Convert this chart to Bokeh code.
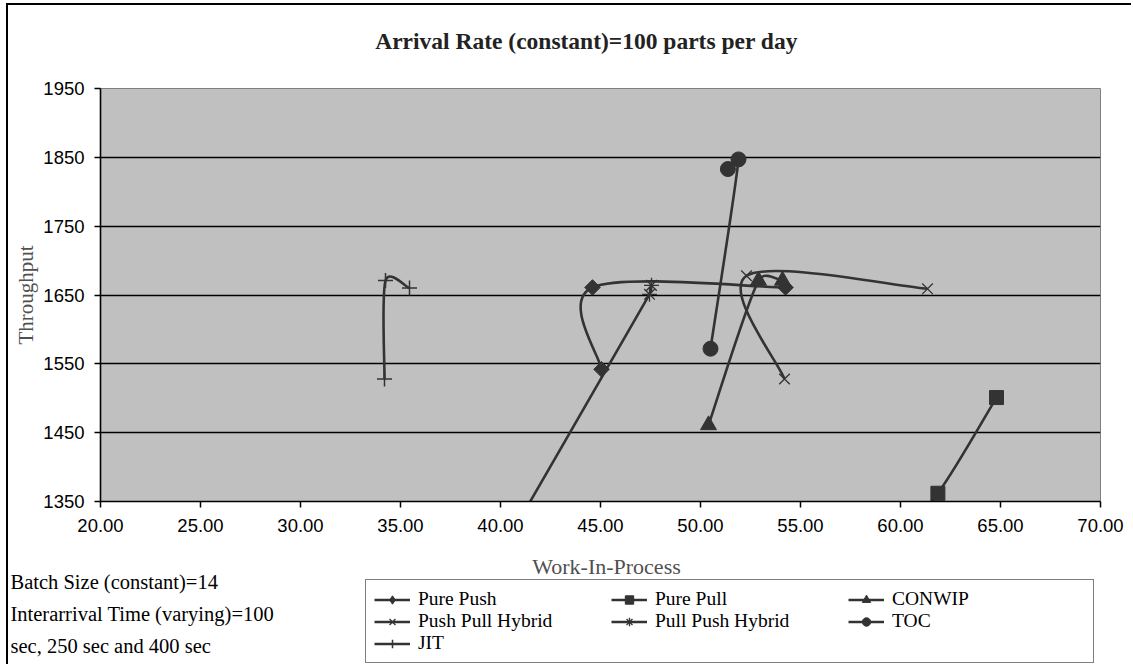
import numpy as np
from bokeh.plotting import figure
from bokeh.layouts import column
from bokeh.models import (Range1d, FixedTicker, NumeralTickFormatter, Label,
                          Legend, LegendItem)
from bokeh.embed import file_html
from bokeh.resources import INLINE

# ---------------- data ----------------
title_text = "Arrival Rate (constant)=100 parts per day"
x_title = "Work-In-Process"
y_title = "Throughput"
notes = ["Batch Size (constant)=14",
         "Interarrival Time (varying)=100",
         "sec, 250 sec and 400 sec"]

x_ticks = [20, 25, 30, 35, 40, 45, 50, 55, 60, 65, 70]
y_ticks = [1350, 1450, 1550, 1650, 1750, 1850, 1950]

series_names = ["Pure Push", "Pure Pull", "CONWIP",
                "Push Pull Hybrid", "Pull Push Hybrid", "TOC", "JIT"]

pure_push_wip = [45.05, 44.60, 54.25]
pure_push_thr = [1542, 1661, 1661]

pure_pull_wip = [59.50, 61.87, 64.80]
pure_pull_thr = [1290, 1362, 1501]

conwip_wip = [50.40, 52.90, 54.10]
conwip_thr = [1461, 1671, 1671]

push_pull_wip = [61.35, 52.30, 54.20]
push_pull_thr = [1659, 1678, 1528]

pull_push_wip = [39.00, 47.45, 47.55]
pull_push_thr = [1225, 1651, 1664]

toc_wip = [50.50, 51.90, 51.37]
toc_thr = [1572, 1847, 1833]

jit_wip = [34.20, 34.25, 35.45]
jit_thr = [1528, 1671, 1660]

# ---------------- layout / styling ----------------
DARK = "#333333"
SERIF = "Liberation Serif"
SANS = "Liberation Sans"

OFF_X, OFF_Y = 8, 5            # page offset of the chart (outer border sits left/above it)
PAGE_W, PAGE_H = 1133, 666
TOP_SPLIT = 78                 # page y where the plot figure starts (title strip above)
SPLIT = 545                    # page y where the lower (notes + legend) strip starts
FRAME_W, FRAME_H = 1000, 413
FL, FT = 100, 88               # frame left/top on the page
XMIN, XMAX, YMIN, YMAX = 20, 70, 1350, 1950
W = PAGE_W - OFF_X


def strip(y0, y1):
    """A figure whose frame is the whole strip, with page-pixel coordinates."""
    f = figure(width=W, height=y1 - y0, output_backend="svg", toolbar_location=None,
               x_range=Range1d(OFF_X, PAGE_W), y_range=Range1d(y1, y0),
               min_border=0, x_axis_location=None, y_axis_location=None)
    f.frame_align = False
    f.grid.visible = False
    f.outline_line_color = None
    f.background_fill_color = "white"
    f.border_fill_color = "white"
    f.title.visible = False
    return f


# ---------------- title strip ----------------
t = strip(OFF_Y, TOP_SPLIT)
t.add_layout(Label(x=586, y=40, text=title_text, text_font=SERIF,
                   text_font_size="23.5px", text_font_style="bold",
                   text_color="#222222", text_align="center", text_baseline="middle"))

# ---------------- main plot ----------------
main_h = SPLIT - TOP_SPLIT
p = figure(width=W, height=main_h, output_backend="svg", toolbar_location=None,
           x_range=Range1d(XMIN, XMAX), y_range=Range1d(YMIN, YMAX),
           min_border_left=FL - OFF_X, min_border_right=W - (FL - OFF_X) - FRAME_W,
           min_border_top=FT - TOP_SPLIT,
           min_border_bottom=main_h - (FT - TOP_SPLIT) - FRAME_H)
p.frame_align = False
p.title.visible = False
p.background_fill_color = "#C0C0C0"
p.border_fill_color = "white"
p.outline_line_color = "#808080"
p.outline_line_width = 1

p.xgrid.visible = False
p.ygrid.grid_line_color = "black"
p.ygrid.grid_line_width = 1.6
p.ygrid.ticker = FixedTicker(ticks=y_ticks)

p.xaxis.ticker = FixedTicker(ticks=x_ticks)
p.xaxis.formatter = NumeralTickFormatter(format="0.00")
p.yaxis.ticker = FixedTicker(ticks=y_ticks)
for ax in (p.xaxis[0], p.yaxis[0]):
    ax.axis_line_color = "black"
    ax.axis_line_width = 1.6
    ax.major_tick_line_color = "black"
    ax.major_tick_line_width = 1.5
    ax.major_tick_in = 0
    ax.minor_tick_line_color = None
    ax.major_label_text_font = SANS
    ax.major_label_text_font_size = "18.5px"
    ax.major_label_text_color = "black"
p.xaxis.major_tick_out = 6
p.xaxis.major_label_standoff = 11
p.yaxis.major_tick_out = 6
p.yaxis.major_label_standoff = 10
p.yaxis.axis_label = y_title
p.yaxis.axis_label_text_font = SERIF
p.yaxis.axis_label_text_font_size = "21px"
p.yaxis.axis_label_text_font_style = "normal"
p.yaxis.axis_label_text_color = "#505050"
p.yaxis.axis_label_standoff = 2

# Excel-like smoothing: Bezier control arms of 1/6 of the chord, capped at half
# the segment length (measured in screen pixels).
SX = FRAME_W / (XMAX - XMIN)
SY = FRAME_H / (YMAX - YMIN)


def _dist(x0, y0, x1, y1):
    return float(np.hypot((x1 - x0) * SX, (y1 - y0) * SY))


def smooth_segments(xs, ys):
    n = len(xs)
    seg = {k: [] for k in ("x0", "y0", "x1", "y1", "cx0", "cy0", "cx1", "cy1")}
    for i in range(n - 1):
        a = i - 1 if i > 0 else i
        d = i + 2 if i + 2 < n else i + 1
        d12 = _dist(xs[i], ys[i], xs[i + 1], ys[i + 1])
        d02 = _dist(xs[a], ys[a], xs[i + 1], ys[i + 1])
        d13 = _dist(xs[i], ys[i], xs[d], ys[d])
        f0 = 1 / 6 if d02 / 6 < d12 / 2 or d02 == 0 else d12 / 2 / d02
        f3 = 1 / 6 if d13 / 6 < d12 / 2 or d13 == 0 else d12 / 2 / d13
        seg["x0"].append(xs[i]); seg["y0"].append(ys[i])
        seg["x1"].append(xs[i + 1]); seg["y1"].append(ys[i + 1])
        seg["cx0"].append(xs[i] + f0 * (xs[i + 1] - xs[a]))
        seg["cy0"].append(ys[i] + f0 * (ys[i + 1] - ys[a]))
        seg["cx1"].append(xs[i + 1] - f3 * (xs[d] - xs[i]))
        seg["cy1"].append(ys[i + 1] - f3 * (ys[d] - ys[i]))
    return seg


series = [
    (pure_push_wip, pure_push_thr, dict(marker="square", size=11, angle=np.pi / 4)),
    (pure_pull_wip, pure_pull_thr, dict(marker="square", size=14)),
    (conwip_wip, conwip_thr, dict(marker="triangle", size=16)),
    (push_pull_wip, push_pull_thr, dict(marker="x", size=15, line_width=1.3)),
    (pull_push_wip, pull_push_thr, dict(marker="asterisk", size=15, line_width=1.3)),
    (toc_wip, toc_thr, dict(marker="circle", size=15)),
    (jit_wip, jit_thr, dict(marker="cross", size=15, line_width=1.5)),
]
legend_markers = ["diamond", "square", "triangle", "x", "asterisk", "circle", "cross"]

for xs, ys, mk in series:
    p.bezier(line_color=DARK, line_width=2.6, **smooth_segments(xs, ys))
    kw = dict(fill_color=DARK, line_color=DARK)
    kw.update(mk)
    p.scatter(xs, ys, **kw)

# ---------------- lower strip: axis title, notes and legend ----------------
q = strip(SPLIT, PAGE_H)
q.add_layout(Label(x=606, y=566, text=x_title, text_font=SERIF,
                   text_font_size="22px", text_color="#505050",
                   text_align="center", text_baseline="middle"))
for i, txt in enumerate(notes):
    q.add_layout(Label(x=10, y=581 + 32 * i, text=txt, text_font=SERIF,
                       text_font_size="20.5px", text_color="black",
                       text_align="left", text_baseline="middle"))

items = []
for name, (xs, ys, mk), lm in zip(series_names, series, legend_markers):
    r_line = q.line(xs, ys, line_color=DARK, line_width=2.6)
    r_pts = q.scatter(xs, ys, marker=lm, size=12, fill_color=DARK, line_color=DARK,
                      line_width=mk.get("line_width", 1))
    items.append(LegendItem(label=name, renderers=[r_line, r_pts]))

legend = Legend(items=items, orientation="horizontal", ncols=3,
                location=(365 - OFF_X, PAGE_H - 663))
legend.label_text_font = SERIF
legend.label_text_font_size = "19.5px"
legend.label_text_color = "black"
legend.glyph_width = 36
legend.glyph_height = 21
legend.label_standoff = 8
legend.label_width = 193
legend.label_height = 21
legend.spacing = 0
legend.padding = 8
legend.margin = 0
legend.border_line_color = "black"
legend.border_line_width = 1.3
legend.background_fill_color = "white"
legend.background_fill_alpha = 1
q.add_layout(legend, "center")

layout = column(t, p, q, spacing=0,
                styles={"margin-left": f"{OFF_X}px", "margin-top": f"{OFF_Y}px",
                        "box-shadow": "-2px -2px 0 0 black"})

open("out.html", "w").write(file_html(layout, INLINE))
